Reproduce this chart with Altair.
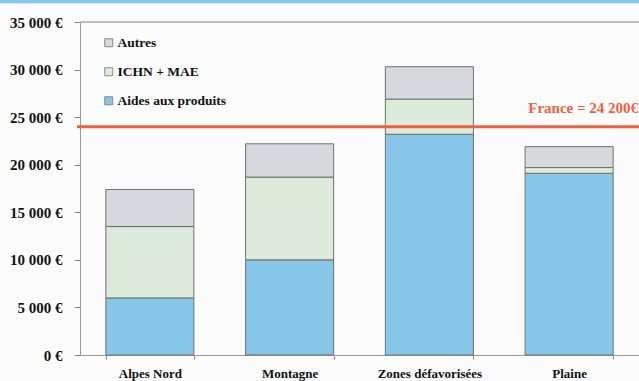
import altair as alt
import pandas as pd

categories = ["Alpes Nord", "Montagne", "Zones défavorisées", "Plaine"]
aides_produits = [6000, 10000, 23200, 19100]
ichn_mae = [7500, 8700, 3700, 600]
autres = [3900, 3500, 3400, 2200]
series_names = ["Autres", "ICHN + MAE", "Aides aux produits"]
series_colors = ["#d5d9dd", "#ddecda", "#86c7ea"]
stack_rank = {"Aides aux produits": 0, "ICHN + MAE": 1, "Autres": 2}
france_value = 24000
france_label = "France = 24 200€"
y_max = 35000

rows = []
for i, c in enumerate(categories):
    for name, vals in (("Aides aux produits", aides_produits),
                       ("ICHN + MAE", ichn_mae),
                       ("Autres", autres)):
        rows.append({"zone": c, "serie": name, "valeur": vals[i], "rang": stack_rank[name]})
df = pd.DataFrame(rows)

W, H = 559, 333
FONT = "Liberation Serif"

x_enc = alt.X(
    "zone:N",
    sort=categories,
    scale=alt.Scale(paddingInner=0.37, paddingOuter=0.185),
    axis=alt.Axis(
        title=None, labelAngle=0, labelFont=FONT, labelFontWeight="bold",
        labelFontSize=13, labelColor="#111", tickBand="extent", tickSize=4,
        tickColor="#888", domainColor="#999", labelPadding=8,
    ),
)

bars = alt.Chart(df).mark_bar(stroke="#707070", strokeWidth=1).encode(
    x=x_enc,
    y=alt.Y(
        "valeur:Q",
        stack="zero",
        scale=alt.Scale(domain=[0, y_max], nice=False),
        axis=alt.Axis(
            title=None, values=[0, 5000, 10000, 15000, 20000, 25000, 30000, 35000],
            labelExpr="replace(format(datum.value, ','), ',', ' ') + ' €'",
            labelFont=FONT, labelFontWeight="bold", labelFontSize=15,
            labelColor="#111", tickSize=6, tickColor="#888", domainColor="#999",
            labelPadding=12, grid=False,
        ),
    ),
    color=alt.Color(
        "serie:N",
        scale=alt.Scale(domain=series_names, range=series_colors),
        legend=alt.Legend(
            title=None, orient="none", legendX=22, legendY=14,
            symbolType="square", symbolSize=64, symbolStrokeColor="#888",
            symbolStrokeWidth=1, labelFont=FONT, labelFontWeight="bold",
            labelFontSize=13.5, labelColor="#111", rowPadding=14, labelOffset=2,
            padding=0,
        ),
    ),
    order=alt.Order("rang:Q", sort="ascending"),
)

top_border = alt.Chart(pd.DataFrame({"v": [y_max]})).mark_rule(
    color="#a8a8a8", strokeWidth=1.5
).encode(y="v:Q", x=alt.value(0), x2=alt.value(W))

top_strip = alt.Chart(pd.DataFrame({"v": [0]})).mark_rule(
    color="#7fc8ef", strokeWidth=3.5
).encode(x=alt.value(-80), x2=alt.value(W + 5), y=alt.value(-20.5))

france = alt.Chart(pd.DataFrame({"v": [france_value]})).mark_rule(
    color="#f0603c", strokeWidth=3
).encode(y="v:Q", x=alt.value(-3), x2=alt.value(W))

france_text = alt.Chart(pd.DataFrame({"v": [france_value], "t": [france_label]})).mark_text(
    align="right", baseline="alphabetic", dy=-14, font=FONT, fontWeight="bold",
    fontSize=15, color="#f0603c",
).encode(y="v:Q", x=alt.value(W - 1), text="t:N")

chart = alt.layer(bars, top_border, france, france_text, top_strip).properties(
    width=W, height=H,
    autosize=alt.AutoSizeParams(type="none"),
    padding={"left": 80, "top": 22, "right": 0, "bottom": 26},
    background="#fcfcfd",
).configure_view(stroke=None)

chart.save("out.html", embed_options={"renderer": "svg", "actions": False})
